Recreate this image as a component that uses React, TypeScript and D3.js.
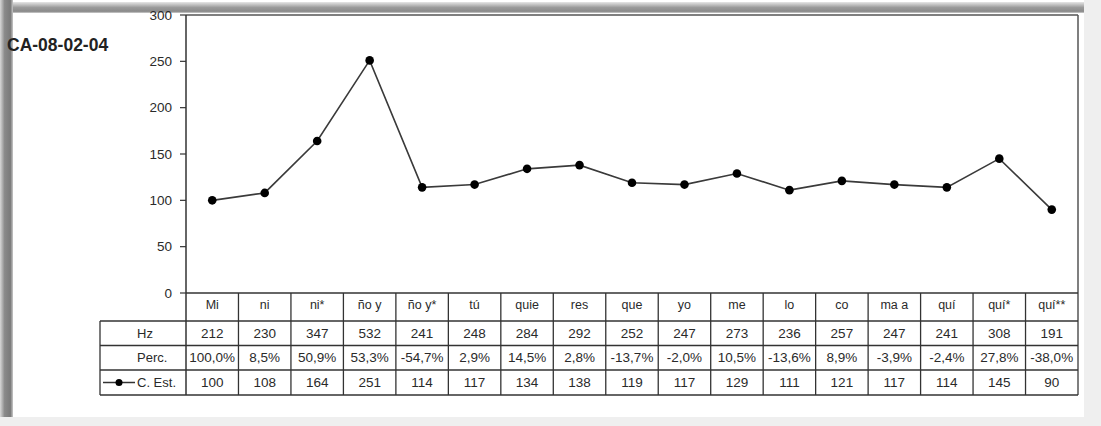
import React from "react";
import * as d3 from "d3";

const categories = ["Mi", "ni", "ni*", "ño y", "ño y*", "tú", "quie", "res", "que", "yo", "me", "lo", "co", "ma a", "quí", "quí*", "quí**"];
const hzValues = [212, 230, 347, 532, 241, 248, 284, 292, 252, 247, 273, 236, 257, 247, 241, 308, 191];
const percValues = ["100,0%", "8,5%", "50,9%", "53,3%", "-54,7%", "2,9%", "14,5%", "2,8%", "-13,7%", "-2,0%", "10,5%", "-13,6%", "8,9%", "-3,9%", "-2,4%", "27,8%", "-38,0%"];
const cEstValues = [100, 108, 164, 251, 114, 117, 134, 138, 119, 117, 129, 111, 121, 117, 114, 145, 90];
const yTicks = [0, 50, 100, 150, 200, 250, 300];
const rowLabels = ["Hz", "Perc.", "C. Est."];
const title = "CA-08-02-04";

const W = 1101;
const H = 426;
const left = 186;
const right = 1078;
const top = 15;
const zeroY = 293;
const rowTops = [321, 345.5, 370, 395];
const headLeft = 100;
const font = "'Liberation Sans', Arial, sans-serif";
const textColor = "#2a2a2a";

export default function App() {
  const x = d3.scaleBand<string>().domain(categories).range([left, right]).paddingInner(0).paddingOuter(0);
  const y = d3.scaleLinear().domain([0, 300]).range([zeroY, top]);
  const line = d3
    .line<number>()
    .x((_, i) => (x(categories[i]) as number) + x.bandwidth() / 2)
    .y((d) => y(d));

  const rows: (string | number)[][] = [hzValues, percValues, cEstValues];

  return (
    <svg width={W} height={H} style={{ position: "absolute", left: 0, top: 0 }} fontFamily={font}>
      <defs>
        <linearGradient id="lg" x1="0" x2="1" y1="0" y2="0">
          <stop offset="0" stopColor="#d8d8d8" />
          <stop offset="0.35" stopColor="#8a8a8a" />
          <stop offset="0.8" stopColor="#7a7a7a" />
          <stop offset="1" stopColor="#c8c8c8" />
        </linearGradient>
        <linearGradient id="tg" x1="0" x2="0" y1="0" y2="1">
          <stop offset="0" stopColor="#e6e6e6" />
          <stop offset="0.5" stopColor="#9a9a9a" />
          <stop offset="0.85" stopColor="#8a8a8a" />
          <stop offset="1" stopColor="#d0d0d0" />
        </linearGradient>
      </defs>
      <rect x={0} y={0} width={W} height={H} fill="#fff" />
      {/* window frame shadows */}
      <rect x={1084} y={0} width={W - 1084} height={H} fill="#efefef" />
      <rect x={0} y={417} width={W} height={H - 417} fill="#efefef" />
      <rect x={0} y={2} width={1084} height={11} fill="url(#tg)" />
      <rect x={0} y={0} width={13} height={417} fill="url(#lg)" />

      {/* title */}
      <text x={7} y={51} fontSize={17.5} fontWeight="bold" fill="#222">
        {title}
      </text>

      {/* plot border */}
      <line x1={left} x2={right} y1={top} y2={top} stroke="#555" strokeWidth={1.5} />
      <line x1={right} x2={right} y1={top} y2={rowTops[3]} stroke="#555" strokeWidth={1.5} />

      {/* y axis */}
      <line x1={left} x2={left} y1={top} y2={rowTops[3]} stroke="#333" strokeWidth={1.5} />
      {yTicks.map((t) => (
        <g key={t}>
          <line x1={left - 6} x2={left} y1={y(t)} y2={y(t)} stroke="#333" strokeWidth={1.2} />
          <text x={172} y={y(t)} dy="0.35em" textAnchor="end" fontSize={13.5} fill={textColor}>
            {t}
          </text>
        </g>
      ))}

      {/* table lines */}
      <line x1={left} x2={right} y1={zeroY} y2={zeroY} stroke="#333" strokeWidth={1.5} />
      {rowTops.map((ry, i) => (
        <line key={i} x1={headLeft} x2={right} y1={ry} y2={ry} stroke="#333" strokeWidth={1.3} />
      ))}
      <line x1={headLeft} x2={headLeft} y1={rowTops[0]} y2={rowTops[3]} stroke="#333" strokeWidth={1.3} />
      {categories.slice(1).map((c) => (
        <line key={c} x1={x(c) as number} x2={x(c) as number} y1={zeroY} y2={rowTops[3]} stroke="#333" strokeWidth={1.3} />
      ))}

      {/* category labels */}
      {categories.map((c) => (
        <text
          key={c}
          x={(x(c) as number) + x.bandwidth() / 2}
          y={(zeroY + rowTops[0]) / 2 - 2}
          dy="0.35em"
          textAnchor="middle"
          fontSize={12.5}
          fill={textColor}
        >
          {c}
        </text>
      ))}

      {/* row headers */}
      {rowLabels.map((l, i) => (
        <text key={l} x={137} y={(rowTops[i] + rowTops[i + 1]) / 2} dy="0.35em" fontSize={13} fill={textColor}>
          {l}
        </text>
      ))}
      <line x1={103} x2={135} y1={(rowTops[2] + rowTops[3]) / 2} y2={(rowTops[2] + rowTops[3]) / 2} stroke="#333" strokeWidth={1.5} />
      <circle cx={119} cy={(rowTops[2] + rowTops[3]) / 2} r={3.5} fill="#000" />

      {/* row values */}
      {rows.map((vals, ri) =>
        vals.map((v, ci) => (
          <text
            key={`${ri}-${ci}`}
            x={(x(categories[ci]) as number) + x.bandwidth() / 2}
            y={(rowTops[ri] + rowTops[ri + 1]) / 2}
            dy="0.35em"
            textAnchor="middle"
            fontSize={13.5}
            fill={textColor}
          >
            {v}
          </text>
        ))
      )}

      {/* series */}
      <path d={line(cEstValues) as string} fill="none" stroke="#3a3a3a" strokeWidth={1.6} />
      {cEstValues.map((v, i) => (
        <circle key={i} cx={(x(categories[i]) as number) + x.bandwidth() / 2} cy={y(v)} r={4.3} fill="#000" />
      ))}
    </svg>
  );
}
